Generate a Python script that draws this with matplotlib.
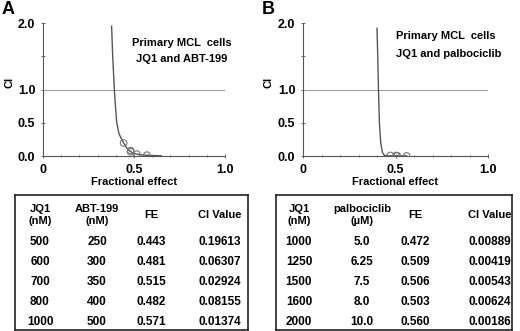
import matplotlib.pyplot as plt

plt.rcParams['font.family'] = ['Liberation Sans', 'DejaVu Sans']
plt.rcParams['font.weight'] = 'bold'

# panel A: JQ1 + ABT-199
fe_a = [0.443, 0.481, 0.515, 0.482, 0.571]
ci_a = [0.19613, 0.06307, 0.02924, 0.08155, 0.01374]
curve_fa_a = [0.377, 0.383, 0.392, 0.398, 0.405, 0.418, 0.443, 0.465, 0.49, 0.52, 0.56, 0.62, 0.65]
curve_ci_a = [1.95, 1.5, 1.0, 0.75, 0.5, 0.33, 0.196, 0.10, 0.05, 0.025, 0.012, 0.005, 0.003]

# panel B: JQ1 + palbociclib
fe_b = [0.472, 0.509, 0.506, 0.503, 0.560]
ci_b = [0.00889, 0.00419, 0.00543, 0.00624, 0.00186]
curve_fa_b = [0.400, 0.404, 0.408, 0.413, 0.420, 0.430, 0.440, 0.460, 0.500, 0.560]
curve_ci_b = [1.92, 1.5, 1.0, 0.5, 0.2, 0.05, 0.01, 0.003, 0.002, 0.001]

xticks = [0, 0.5, 1.0]
xtick_labels = ["0", "0.5", "1.0"]
yticks = [0, 0.5, 1.0, 1.5, 2.0]
ytick_labels = ["0.0", "0.5", "1.0", "", "2.0"]

header_a = ["JQ1\n(nM)", "ABT-199\n(nM)", "FE", "CI Value"]
rows_a = [["500", "250", "0.443", "0.19613"],
          ["600", "300", "0.481", "0.06307"],
          ["700", "350", "0.515", "0.02924"],
          ["800", "400", "0.482", "0.08155"],
          ["1000", "500", "0.571", "0.01374"]]
header_b = ["JQ1\n(nM)", "palbociclib\n(\u00b5M)", "FE", "CI Value"]
rows_b = [["1000", "5.0", "0.472", "0.00889"],
          ["1250", "6.25", "0.509", "0.00419"],
          ["1500", "7.5", "0.506", "0.00543"],
          ["1600", "8.0", "0.503", "0.00624"],
          ["2000", "10.0", "0.560", "0.00186"]]

W, H = 520, 331
fig = plt.figure(figsize=(W / 100, H / 100), dpi=100)


def px_axes(x0, y0, x1, y1):
    return fig.add_axes([x0 / W, 1 - y1 / H, (x1 - x0) / W, (y1 - y0) / H])


def draw_plot(ax, fa, ci, cfa, cci):
    ax.plot([0, 1], [1, 1], color='#a0a0a0', lw=0.8)
    ax.plot(cfa, cci, color='#555555', lw=1.0)
    ax.scatter(fa, ci, s=22, facecolors='none', edgecolors='#777777', linewidths=0.8, zorder=3)
    ax.set_xlim(0, 1.0)
    ax.set_ylim(0, 2.0)
    ax.spines['top'].set_visible(False)
    ax.spines['right'].set_visible(False)
    for s in ['left', 'bottom']:
        ax.spines[s].set_color('#555555')
        ax.spines[s].set_linewidth(0.8)
    ax.set_xticks(xticks, labels=xtick_labels, fontsize=9, fontweight='bold')
    ax.set_xticks([0.1, 0.2, 0.3, 0.4, 0.6, 0.7, 0.8, 0.9], minor=True)
    ax.set_yticks(yticks, labels=ytick_labels, fontsize=9, fontweight='bold')
    ax.tick_params(direction='inout', length=3, width=0.6, color='#555555', pad=4)
    ax.tick_params(which='minor', direction='inout', length=2, width=0.6, color='#555555')
    ax.set_xlabel("Fractional effect", fontsize=8, fontweight='bold', labelpad=1)
    ax.set_ylabel("CI", fontsize=8, fontweight='bold')
    ax.yaxis.set_label_coords(-29 / 182, 0.55)


ax_a = px_axes(43, 23, 225, 156)
draw_plot(ax_a, fe_a, ci_a, curve_fa_a, curve_ci_a)
ax_a.text(0.76, 1.7, "Primary MCL  cells", ha='center', va='center', fontsize=8, fontweight='bold')
ax_a.text(0.76, 1.46, "JQ1 and ABT-199", ha='center', va='center', fontsize=8, fontweight='bold')

ax_b = px_axes(303, 23, 488, 156)
draw_plot(ax_b, fe_b, ci_b, curve_fa_b, curve_ci_b)
ax_b.text(0.50, 1.81, "Primary MCL  cells", ha='left', va='center', fontsize=8, fontweight='bold')
ax_b.text(0.50, 1.54, "JQ1 and palbociclib", ha='left', va='center', fontsize=8, fontweight='bold')

fig.text(8 / W, 1 - 9 / H, "A", fontsize=13, fontweight='bold', ha='center', va='center')
fig.text(268 / W, 1 - 9 / H, "B", fontsize=13, fontweight='bold', ha='center', va='center')


def draw_table(x0, x1, col_x, header, rows):
    ax = px_axes(x0, 195, x1, 330)
    ax.set_xlim(x0, x1)
    ax.set_ylim(330, 195)
    ax.set_xticks([])
    ax.set_yticks([])
    for s in ax.spines.values():
        s.set_linewidth(1.2)
        s.set_color('#222222')
    for cx, h in zip(col_x, header):
        ax.text(cx, 215, h, ha='center', va='center', fontsize=8, fontweight='bold',
                linespacing=1.3)
    for i, row in enumerate(rows):
        for cx, v in zip(col_x, row):
            ax.text(cx, 242 + 20 * i, v, ha='center', va='center', fontsize=8.5,
                    fontweight='bold')


draw_table(15, 248, [40, 97, 151, 220], header_a, rows_a)
draw_table(276, 512, [299, 362, 415, 490], header_b, rows_b)

fig.savefig("out.png", dpi=100)
